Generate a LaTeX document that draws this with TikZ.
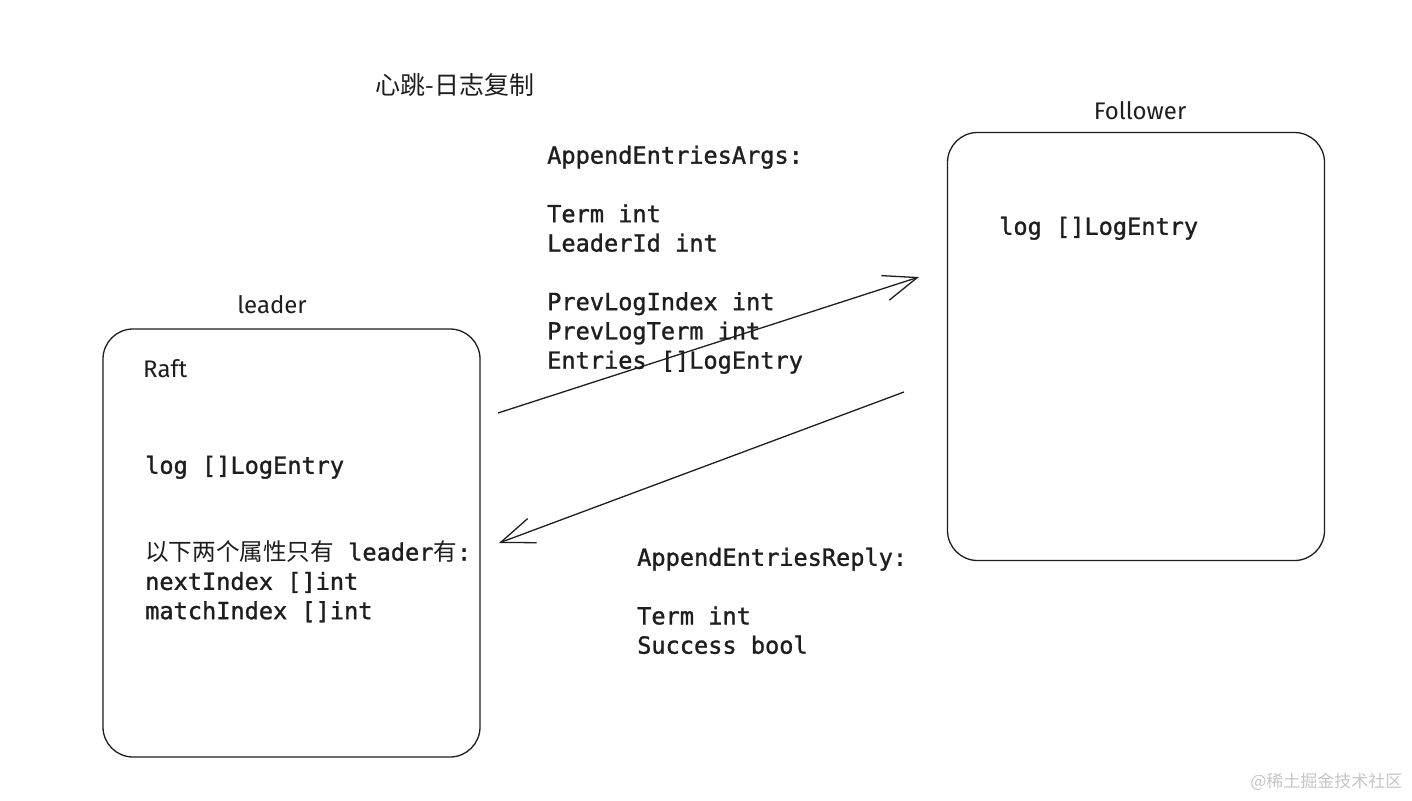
\documentclass[tikz,border=0pt]{standalone}
\usepackage{fontspec}
\setmonofont[FakeBold=1.2]{DejaVu Sans Mono}
\setsansfont{Fira Sans}
\newfontfamily\cjk{Noto Sans CJK SC}
\usetikzlibrary{arrows.meta, positioning}
\definecolor{ink}{HTML}{1E1E1E}

\begin{document}
\begin{tikzpicture}[
    x=1pt, y=-1pt,
    box/.style={rectangle, draw=ink, line width=1.3pt, rounded corners=30pt, minimum width=377pt, minimum height=428pt},
    code/.style={anchor=north west, inner sep=0pt, align=left, text=ink, font=\ttfamily\fontsize{23.6}{29.3}\selectfont},
    hand/.style={inner sep=0pt, text=ink, font=\sffamily\fontsize{24}{28}\selectfont},
    arrow/.style={-{Straight Barb[angle=42:36pt]}, line width=1.3pt, draw=ink}
]
\fill[white] (0,0) rectangle (1412,800);
\useasboundingbox (0,0) rectangle (1412,800);

% titre
\node[text=ink, font=\cjk\fontsize{25}{29}\selectfont] (title) at (455,85) {心跳-日志复制};

% leader
\node[box] (leader) at (291.5,543) {};
\node[hand] (leaderlabel) at (272,305) {leader};
\node[hand, anchor=west] (raft) at (143,369) {Raft};
\node[code] (leaderlog) at (145,455.5) {log []LogEntry};
\node[code] (leaderonly) at (145,540.5) {{\cjk 以下两个属性只有} leader{\cjk 有}:\\nextIndex []int\\matchIndex []int};

% follower
\node[box] (follower) at (1136,346.5) {};
\node[hand] (followerlabel) at (1140,111) {Follower};
\node[code] (followerlog) at (999,216.5) {log []LogEntry};

% messages
\node[code] (args) at (547,145.5) {AppendEntriesArgs:\\[29.3pt]Term int\\LeaderId int\\[29.3pt]PrevLogIndex int\\PrevLogTerm int\\Entries []LogEntry};
\node[code] (reply) at (637,547.5) {AppendEntriesReply:\\[29.3pt]Term int\\Success bool};

% fleches
\coordinate (argsstart) at (498,413);
\coordinate (argsend) at (919,277);
\coordinate (replystart) at (904,392);
\coordinate (replyend) at (499,543);
\draw[arrow] (argsstart) -- (argsend);
\draw[arrow] (replystart) -- (replyend);

% filigrane
\node[text=gray!45, font=\cjk\fontsize{17}{20}\selectfont, anchor=east] (watermark) at (1406,782) {@稀土掘金技术社区};
\end{tikzpicture}
\end{document}
